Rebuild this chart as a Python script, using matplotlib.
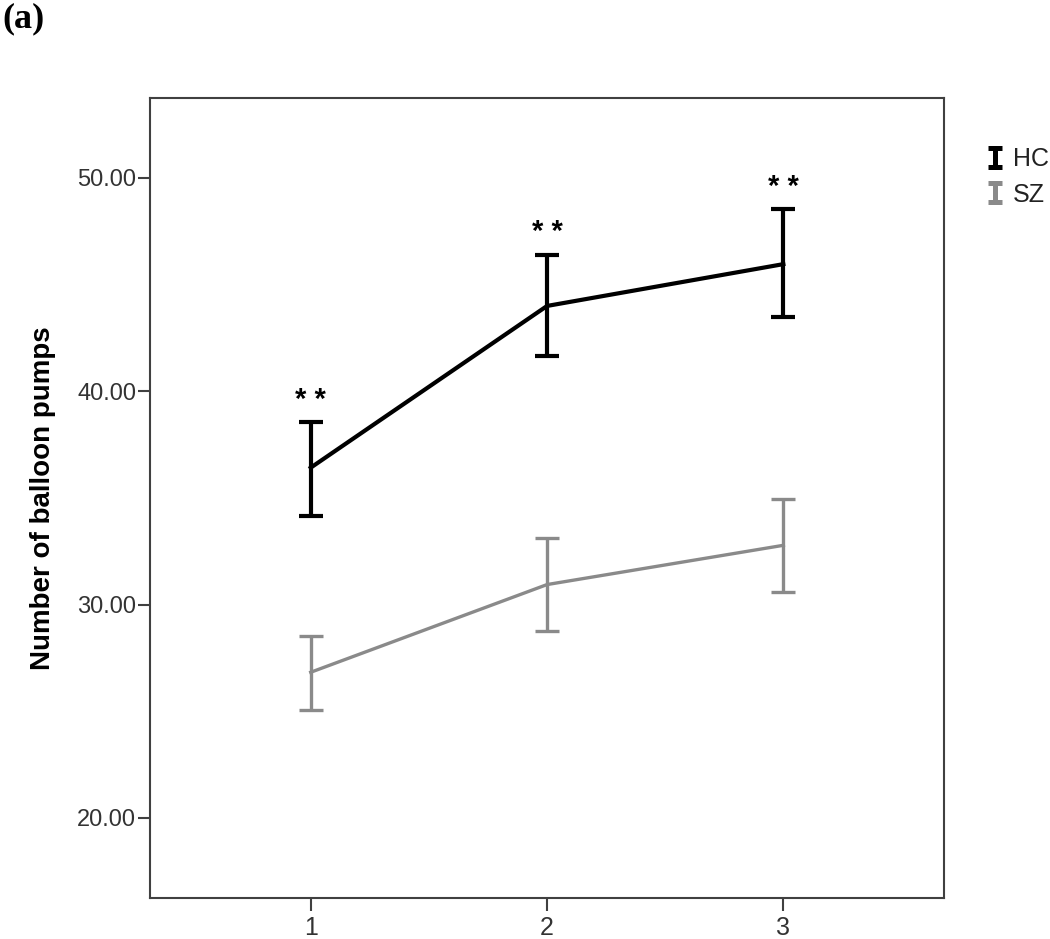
import matplotlib.pyplot as plt
from matplotlib.legend_handler import HandlerErrorbar
from matplotlib.container import ErrorbarContainer

# data
blocks = [1, 2, 3]
hc_mean = [36.42, 44.00, 45.96]
hc_low = [34.14, 41.66, 43.46]
hc_high = [38.54, 46.39, 48.53]
sz_mean = [26.83, 30.94, 32.78]
sz_low = [25.08, 28.75, 30.59]
sz_high = [28.55, 33.12, 34.96]
stars = ["**", "**", "**"]
yticks = [20, 30, 40, 50]

plt.rcParams['font.family'] = ['Liberation Sans', 'DejaVu Sans']

fig = plt.figure(figsize=(10.5, 9.39), dpi=100)
ax = fig.add_axes([0.1429, 0.0437, 0.7562, 0.852])

hc_col = "black"
sz_col = "#8a8a8a"

hc_err = [[m - l for m, l in zip(hc_mean, hc_low)], [h - m for m, h in zip(hc_mean, hc_high)]]
sz_err = [[m - l for m, l in zip(sz_mean, sz_low)], [h - m for m, h in zip(sz_mean, sz_high)]]

ax.plot(blocks, hc_mean, color=hc_col, lw=3.0, solid_joinstyle="miter")
ax.plot(blocks, sz_mean, color=sz_col, lw=2.4, solid_joinstyle="miter")
ax.errorbar(blocks, hc_mean, yerr=hc_err, fmt="none", ecolor=hc_col,
            elinewidth=3.0, capsize=8.5, capthick=3.0)
ax.errorbar(blocks, sz_mean, yerr=sz_err, fmt="none", ecolor=sz_col,
            elinewidth=2.4, capsize=8.5, capthick=2.4)

# small "I" icons for the legend (drawn outside the view)
hc_key = ax.errorbar([-5], [0], yerr=[1], fmt="none", ecolor=hc_col,
                     elinewidth=3.6, capsize=4.8, capthick=3.6, label="HC")
sz_key = ax.errorbar([-5], [0], yerr=[1], fmt="none", ecolor=sz_col,
                     elinewidth=3.6, capsize=4.8, capthick=3.6, label="SZ")

for x, h, s in zip(blocks, hc_high, stars):
    ax.text(x, h + 0.4, " ".join(s), ha="center", va="bottom", fontsize=21,
            fontweight="bold", color="black")

ax.set_xlim(0.32, 3.68)
ax.set_ylim(16.25, 53.75)
ax.set_xticks(blocks)
ax.set_xticklabels([str(b) for b in blocks])
ax.set_yticks(yticks)
ax.set_yticklabels([f"{v:.2f}" for v in yticks])

for sp in ax.spines.values():
    sp.set_color("#404040")
    sp.set_linewidth(1.5)
ax.tick_params(axis="both", direction="out", length=9, width=1.5, color="#404040",
               labelsize=17, labelcolor="#333333")
ax.tick_params(axis="y", pad=1)
ax.tick_params(axis="x", pad=4, labelsize=18)

ax.set_ylabel("Number of balloon pumps", fontsize=20, fontweight="bold")
ax.yaxis.set_label_coords(-0.118, 0.5)

fig.legend(handles=[hc_key, sz_key], labels=["HC", "SZ"],
           handler_map={ErrorbarContainer: HandlerErrorbar(yerr_size=0.38)},
           loc="upper left", bbox_to_anchor=(0.94, 0.843), frameon=False,
           fontsize=18, handlelength=0.6, handletextpad=0.45, labelspacing=0.45,
           borderpad=0, borderaxespad=0, labelcolor="#222222")

fig.text(0.002, 0.997, "(a)", fontsize=26, fontweight="bold", family="Liberation Serif",
         ha="left", va="top")

fig.savefig("out.png", dpi=100)
